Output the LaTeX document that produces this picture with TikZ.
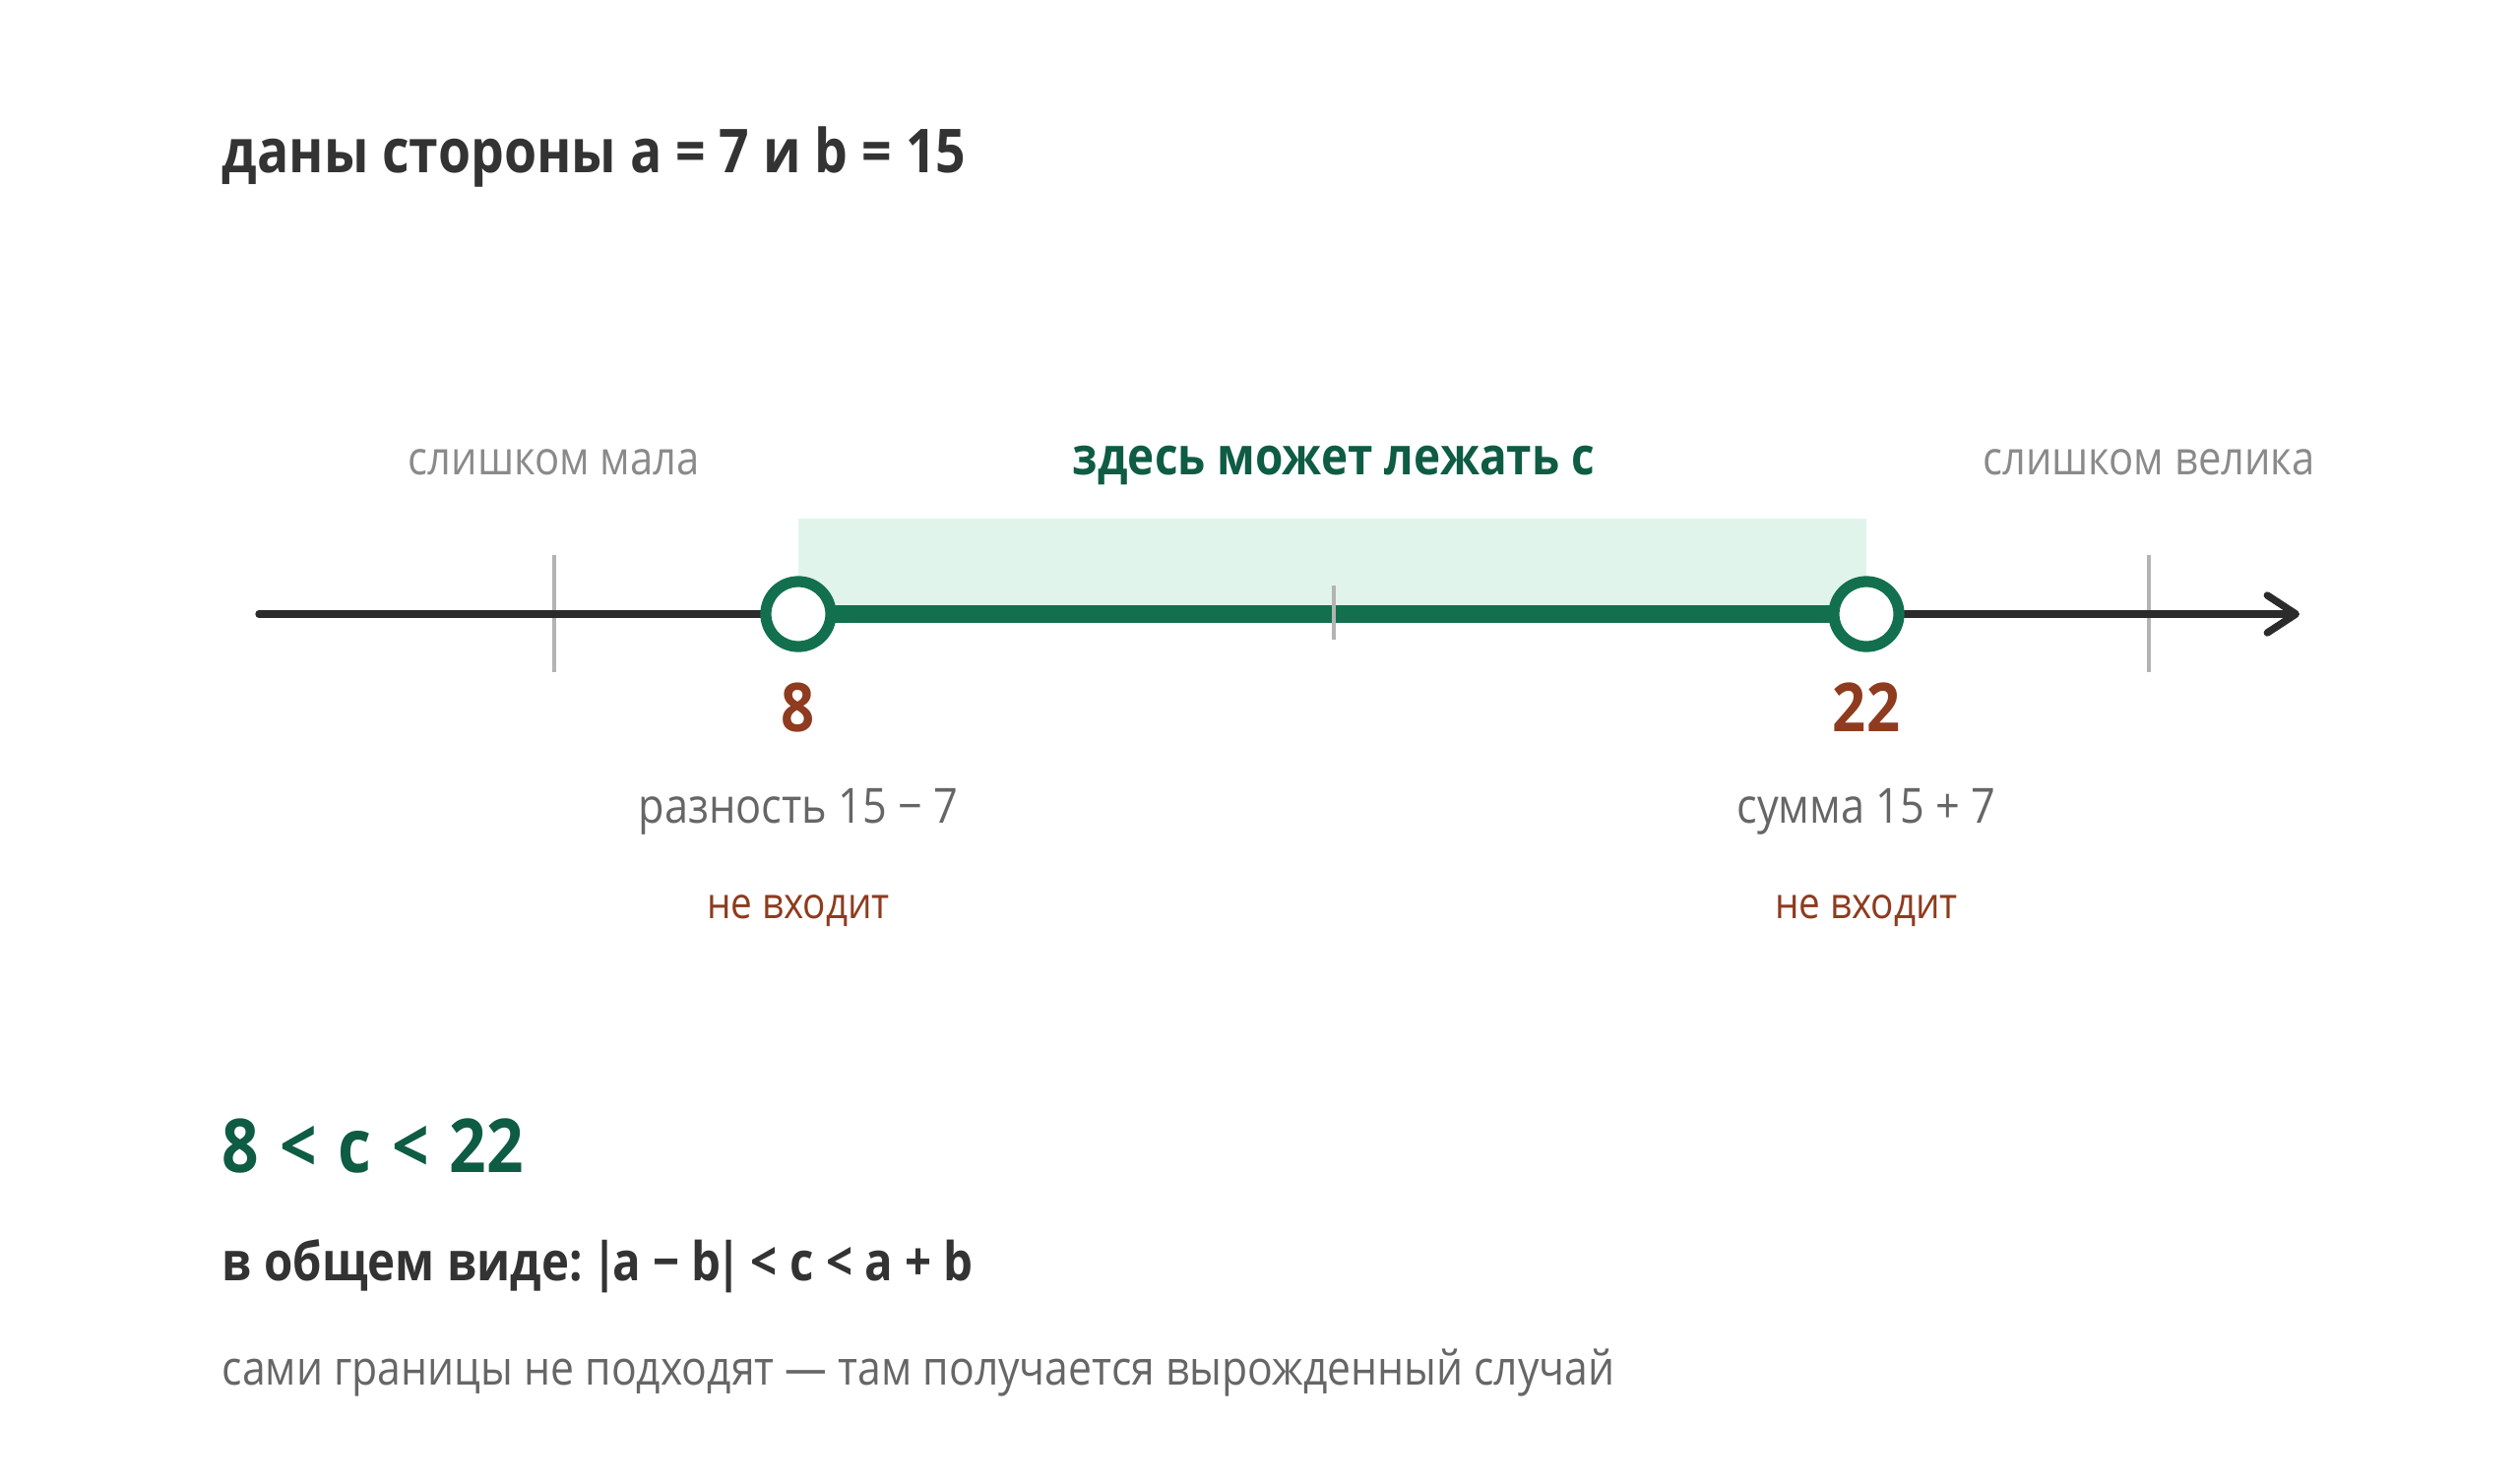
\documentclass[tikz,border=0pt]{standalone}
\usepackage{fontspec}
\setmainfont{Open Sans}[FakeStretch=0.88, BoldFeatures={FakeStretch=0.87}]
\usetikzlibrary{arrows.meta}
\definecolor{ink}{HTML}{333333}
\definecolor{axisgray}{HTML}{2B2B2B}
\definecolor{tickgray}{HTML}{B3B3B3}
\definecolor{mutegray}{HTML}{8A8A8A}
\definecolor{subgray}{HTML}{666666}
\definecolor{zonegreen}{HTML}{12704F}
\definecolor{textgreen}{HTML}{0E5C43}
\definecolor{mint}{HTML}{E1F4EC}
\definecolor{brick}{HTML}{8E3B1F}
\begin{document}
\begin{tikzpicture}[x=0.01cm, y=-0.01cm,
  txt/.style={inner sep=0, anchor=base},
  lefttxt/.style={inner sep=0, anchor=base west},
  tick/.style={draw=tickgray, line width=0.9pt},
  hole/.style={circle, draw=zonegreen, fill=white, line width=3.2pt, minimum size=0.66cm, inner sep=0}]

\useasboundingbox (0,0) rectangle (2560,1506);

\node[lefttxt, text=ink, font=\bfseries\fontsize{17.5}{21}\selectfont] (given) at (225,175) {даны стороны a = 7 и b = 15};

\coordinate (start) at (263,624);
\coordinate (end) at (2336,624);
\coordinate (p8) at (811,624);
\coordinate (p15) at (1355,624);
\coordinate (p22) at (1896,624);
\coordinate (small) at (563,624);
\coordinate (big) at (2183,624);

\fill[mint] (811,527) rectangle (p22);

\draw[tick] ([yshift=-0.59cm]small) -- ([yshift=0.60cm]small);
\draw[tick] ([yshift=-0.59cm]big) -- ([yshift=0.60cm]big);
\draw[axisgray, line width=2.1pt, line cap=round, -{Straight Barb[length=2.9mm, width=3.8mm, line cap=round, round]}] (start) -- (end);
\draw[zonegreen, line width=5.3pt] (p8) -- (p22);
\draw[tick] ([yshift=-0.26cm]p15) -- ([yshift=0.29cm]p15);

\node[hole] (lo) at (p8) {};
\node[hole] (hi) at (p22) {};

\node[txt, text=mutegray, font=\fontsize{13.5}{16}\selectfont] (toosmall) at (563,482) {слишком мала};
\node[txt, text=textgreen, font=\bfseries\fontsize{15}{18}\selectfont] (here) at (1355,482) {здесь может лежать c};
\node[txt, text=mutegray, font=\fontsize{13.5}{16}\selectfont] (toobig) at (2183,482) {слишком велика};

\node[txt, text=brick, font=\bfseries\fontsize{19.5}{23}\selectfont] (v8) at (811,743) {8};
\node[txt, text=brick, font=\bfseries\fontsize{19.5}{23}\selectfont] (v22) at (1896,743) {22};
\node[txt, text=subgray, font=\fontsize{14}{17}\selectfont] (diff) at (811,836) {разность 15 − 7};
\node[txt, text=subgray, font=\fontsize{14}{17}\selectfont] (sum) at (1896,836) {сумма 15 + 7};
\node[txt, text=brick, font=\fontsize{12.5}{15}\selectfont] (out8) at (811,933) {не входит};
\node[txt, text=brick, font=\fontsize{12.5}{15}\selectfont] (out22) at (1896,933) {не входит};

\node[lefttxt, text=textgreen, font={\bfseries\fontsize{21.5}{26}\selectfont\spaceskip=0.28em\relax}] (range) at (225,1191) {8 < c < 22};
\node[lefttxt, text=ink, font=\bfseries\fontsize{15.5}{19}\selectfont] (general) at (225,1301) {в общем виде: \kern-0.12em|\kern-0.1em a − b\kern-0.1em|\kern-0.05em{} < c < a + b};
\node[lefttxt, text=subgray, font=\fontsize{13.8}{17}\selectfont] (note) at (225,1407) {сами границы не подходят — там получается вырожденный случай};

\end{tikzpicture}
\end{document}
